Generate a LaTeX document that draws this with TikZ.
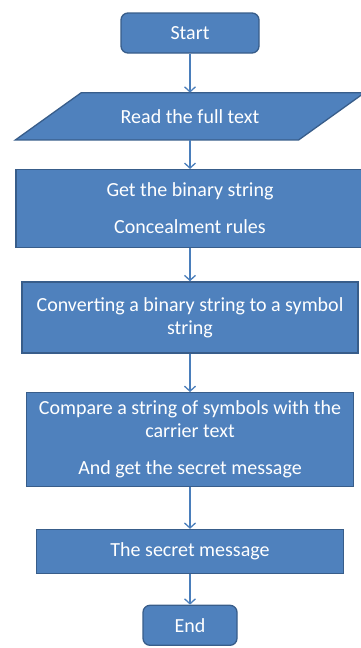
\documentclass[tikz,border=0pt]{standalone}
\usepackage{fontspec}
\setmainfont{Carlito}
\usetikzlibrary{positioning, arrows.meta, backgrounds}
\definecolor{boxblue}{HTML}{4F81BD}
\definecolor{edgeblue}{HTML}{385D8A}
\definecolor{arrowblue}{HTML}{4A7EBB}
\tikzset{
  block/.style={draw=edgeblue, line width=1.3pt, fill=boxblue, text=white, align=center, inner sep=0pt, font=\fontsize{20}{23}\selectfont},
  terminal/.style={block, rounded corners=7pt, minimum height=40pt},
  iotext/.style={block, draw=none, fill=none},
  iobox/.style={draw=edgeblue, line width=1.3pt, fill=boxblue},
  arr/.style={-{Straight Barb[length=5pt,width=11pt]}, draw=arrowblue, line width=1.3pt}
}

\begin{document}
\begin{tikzpicture}[x=1pt, y=-1pt]
\useasboundingbox (0,0) rectangle (361,648);
\node[terminal, minimum width=138pt] (start) at (190,33) {Start};
\node[iotext, minimum width=282pt, minimum height=46pt, below=39pt of start] (read) {Read the full text};
\begin{scope}[on background layer]
  \draw[iobox] ([xshift=33pt]read.north west) -- ([xshift=33pt]read.north east)
    -- ([xshift=-33pt]read.south east) -- ([xshift=-33pt]read.south west) -- cycle;
\end{scope}
\node[block, minimum width=348pt, minimum height=78pt, below=29pt of read] (rules) {Get the binary string\\[14pt]Concealment rules};
\node[block, minimum width=336pt, minimum height=71pt, below=33pt of rules] (conv) {Converting a binary string to a symbol\\string};
\node[block, minimum width=327pt, minimum height=94pt, below=38.5pt of conv] (comp) {Compare a string of symbols with the\\carrier text\\[14pt]And get the secret message};
\node[block, minimum width=307pt, minimum height=44pt, below=41.5pt of comp] (msg) {The secret message};
\node[terminal, minimum width=94pt, below=30.5pt of msg] (end) {End};
\draw[arr] (start) -- (read);
\draw[arr] (read) -- (rules);
\draw[arr] (rules) -- (conv);
\draw[arr] (conv) -- (comp);
\draw[arr] (comp) -- (msg);
\draw[arr] (msg) -- (end);
\end{tikzpicture}
\end{document}
